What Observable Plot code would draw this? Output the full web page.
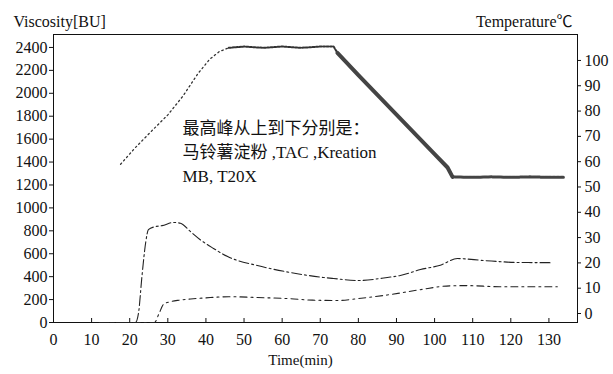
<!DOCTYPE html>
<html><head><meta charset="utf-8">
<script src="https://cdn.jsdelivr.net/npm/d3@7"></script>
<script src="https://cdn.jsdelivr.net/npm/@observablehq/plot@0.6"></script>
<style>
html,body{margin:0;padding:0;background:#fff;}
svg, svg text{font-family:'Liberation Serif','Times New Roman',serif,'Noto Sans CJK SC' !important;}
</style></head><body><div id="chart"></div>
<script>
// ---- tick labels ----
const timeTicks = [0,10,20,30,40,50,60,70,80,90,100,110,120,130];
const viscosityTicks = [0,200,400,600,800,1000,1200,1400,1600,1800,2000,2200,2400];
const temperatureTicks = [0,10,20,30,40,50,60,70,80,90,100];

// ---- temperature profile (°C, right axis) ----
const tempTime  = [17.6,21.5,26,30,34,38,41,43.5,46,50,55,60,65,70,73.5,74.5,80,85,90,95,100,103.4,104.7,110,115,120,125,130,133.8];
const tempValue = [59,65.6,72.5,78.5,86,95,100.5,103.5,105,105.5,105,105.5,105,105.5,105.5,103,94.2,86.4,78.6,70.8,63,57.7,54,53.8,54,53.8,54,53.8,53.8];

// ---- viscosity curves (BU, left axis) ----
const potatoTime = [12,21.5,22.3,23.2,24.2,24.9,26.5,28.5,31.5,33.3,35.9,38.6,42,45.7,53.5,62.2,70.8,73.5,79.8,87.6,91,96.3,101.5,106,112.8,121.8,130.4];
const potatoBU   = [0,0,80,400,700,810,835,845,873,866,795,720,646,575,497,436,393,384,366,393,410,462,500,558,541,524,522];
const lowTime = [12,26.5,27.6,28.9,30.5,33,36,40,46,53.5,62,68,75,79,87.6,96,104,108.6,117,125,132.2];
const lowBU   = [0,0,70,160,180,195,205,215,225,218,208,195,192,205,240,285,320,322,312,312,312];

// ---- annotation ----
const annotationLines = ["最高峰从上到下分别是：","马铃薯淀粉 ,TAC ,Kreation","MB, T20X"];
const annotationTime = 33.85, annotationBU = 1501;

// right (°C) axis of the picture expressed in left-axis units
const tempToBU = t => 78.5 + 22.08 * t;
const buToTemp = v => (v - 78.5) / 22.08;

const temp = tempTime.map((t, i) => ({t, v: tempToBU(tempValue[i])}));
const potato = potatoTime.map((t, i) => ({t, v: potatoBU[i]}));
const low = lowTime.map((t, i) => ({t, v: lowBU[i]}));

const chart = Plot.plot({
  width: 613, height: 374,
  marginLeft: 53, marginRight: 36, marginTop: 34, marginBottom: 52,
  style: {fontSize: "16px", color: "#111", background: "#fff", overflow: "visible"},
  x: {domain: [0, 137.5]},
  y: {domain: [0, 2513]},
  marks: [
    Plot.frame({stroke: "#111", strokeWidth: 1}),
    Plot.axisX({ticks: timeTicks, tickSize: 0, tickPadding: 11, tickFormat: d => String(d), label: null, fontSize: 16}),
    Plot.axisX({ticks: timeTicks, tickSize: 4, dy: -4, tickFormat: () => "", label: null}),
    Plot.axisY({anchor: "left", ticks: viscosityTicks, tickSize: 4, tickPadding: 2, tickFormat: d => String(d), label: null, fontSize: 16}),
    Plot.axisY({anchor: "right", ticks: temperatureTicks.map(tempToBU), tickFormat: v => String(Math.round(buToTemp(v))), tickSize: 3, tickPadding: 4, label: null, fontSize: 16}),
    Plot.text(["Viscosity[BU]"], {frameAnchor: "top-left", dx: -40, dy: -19, textAnchor: "start", fontSize: 16}),
    Plot.text(["Temperature℃"], {frameAnchor: "top-right", dx: -5, dy: -19, textAnchor: "end", fontSize: 16}),
    Plot.text(["Time(min)"], {frameAnchor: "bottom", dx: -15, dy: 42, fontSize: 15}),
    // temperature curve
    Plot.line(temp.filter(d => d.t <= 46), {x: "t", y: "v", stroke: "#333", strokeWidth: 1.3, strokeDasharray: "1.5,3"}),
    Plot.line(temp.filter(d => d.t >= 46 && d.t <= 74.5), {x: "t", y: "v", stroke: "#333", strokeWidth: 2, strokeDasharray: "2,1.5"}),
    Plot.line(temp.filter(d => d.t >= 74.5 && d.t <= 104.7), {x: "t", y: "v", stroke: "#444", strokeWidth: 4}),
    Plot.line(temp.filter(d => d.t >= 104.7), {x: "t", y: "v", stroke: "#444", strokeWidth: 3, strokeDasharray: "3,1"}),
    // viscosity curves
    Plot.line(potato, {x: "t", y: "v", stroke: "#222", strokeWidth: 1.1, strokeDasharray: "10,3,2,3", curve: "monotone-x"}),
    Plot.line(low, {x: "t", y: "v", stroke: "#222", strokeWidth: 1.1, strokeDasharray: "7,4,2,4", curve: "monotone-x"}),
    Plot.text([annotationLines.join("\n")], {x: annotationTime, y: annotationBU, textAnchor: "start", lineHeight: 1.42, fontSize: 17, fill: "#111"})
  ]
});
document.getElementById("chart").appendChild(chart);
</script></body></html>
